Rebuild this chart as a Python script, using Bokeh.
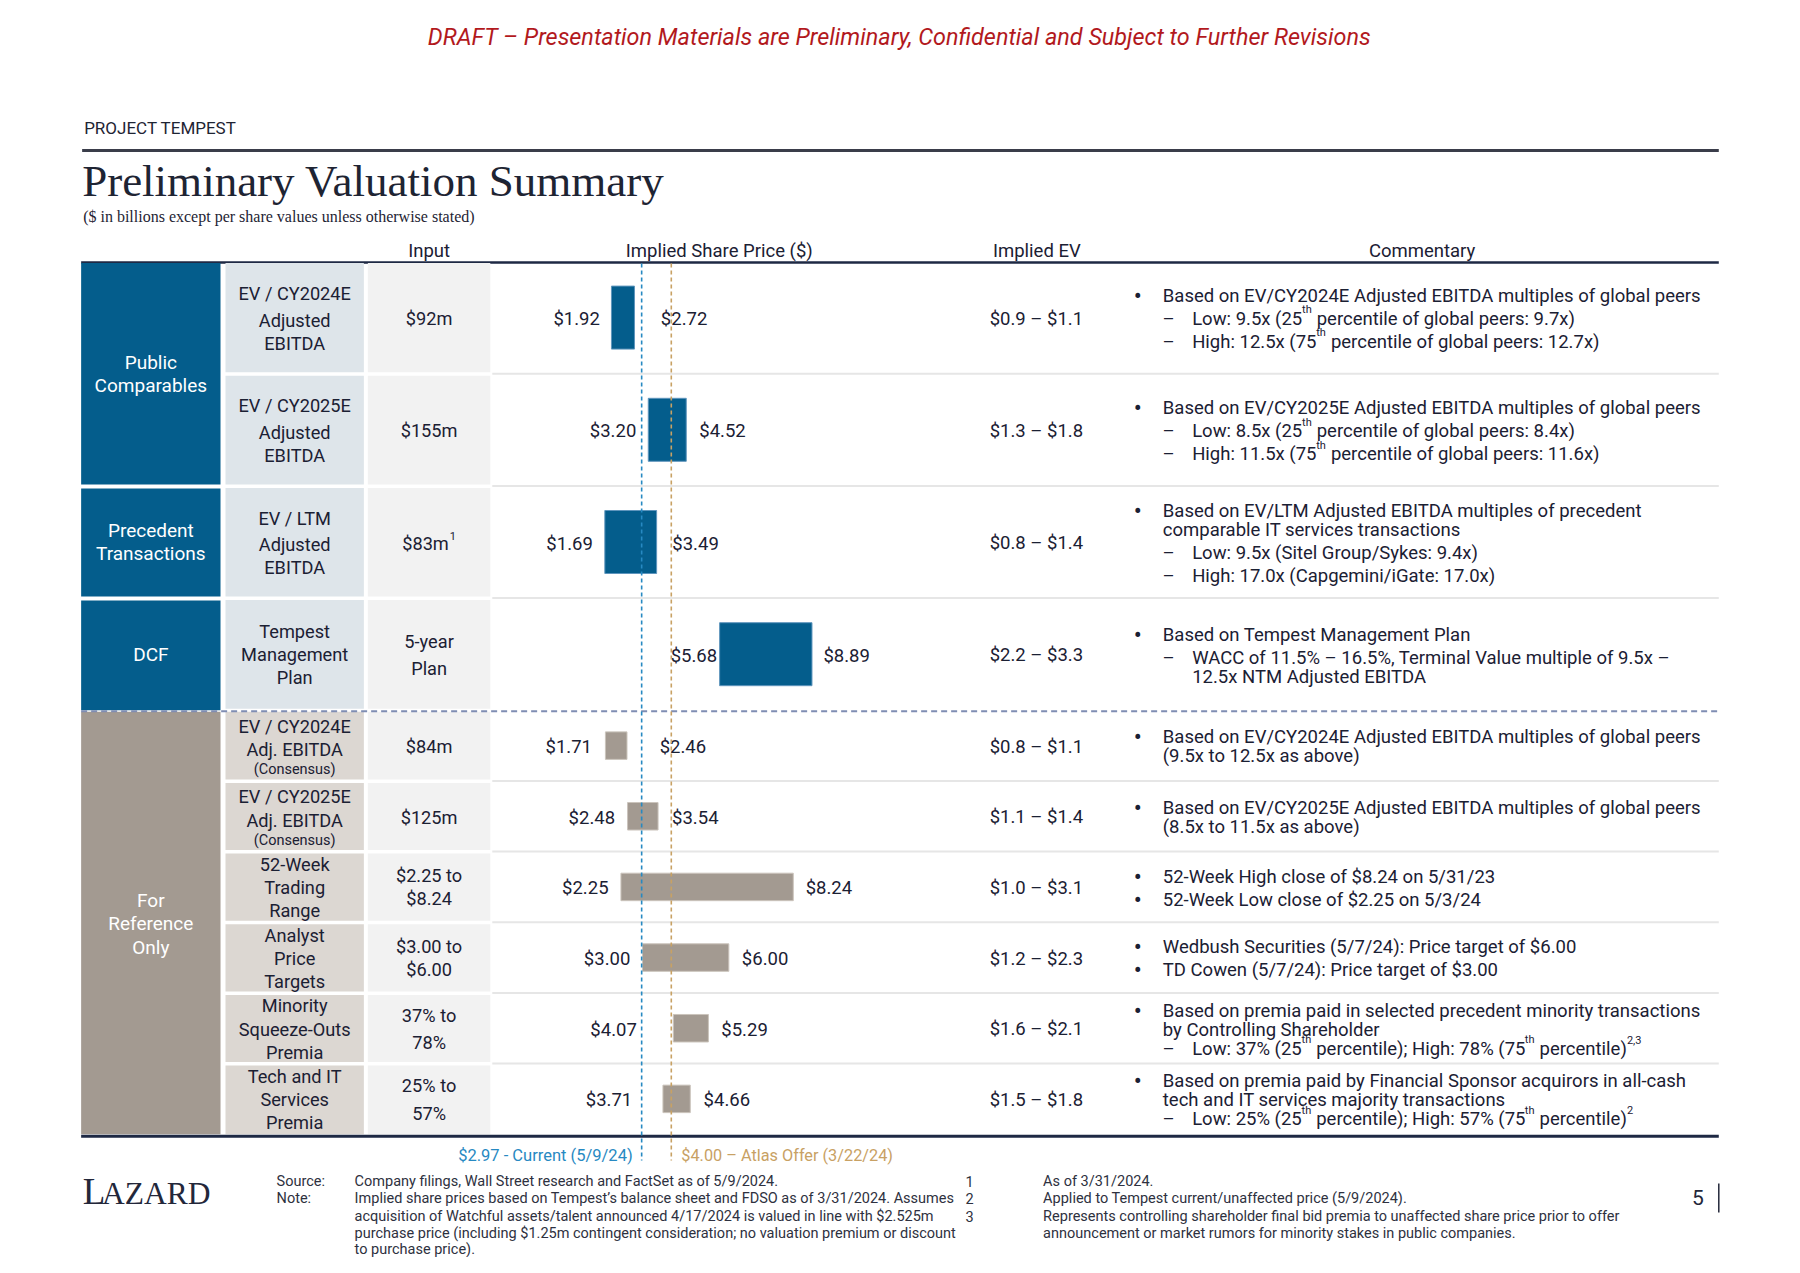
from bokeh.plotting import figure
from bokeh.models import Range1d, ColumnDataSource
from bokeh.embed import file_html
from bokeh.resources import INLINE
from bokeh.core.properties import value

# ---------------- data ----------------
GROUP_LABELS = [["Public", "Comparables"], ["Precedent", "Transactions"], ["DCF"],
                ["For", "Reference", "Only"]]
GROUP_ROWS = [(0, 2), (2, 3), (3, 4), (4, 10)]

METHODS = [
    ["EV / CY2024E", "Adjusted", "EBITDA"],
    ["EV / CY2025E", "Adjusted", "EBITDA"],
    ["EV / LTM", "Adjusted", "EBITDA"],
    ["Tempest", "Management", "Plan"],
    ["EV / CY2024E", "Adj. EBITDA", "(Consensus)"],
    ["EV / CY2025E", "Adj. EBITDA", "(Consensus)"],
    ["52-Week", "Trading", "Range"],
    ["Analyst", "Price", "Targets"],
    ["Minority", "Squeeze-Outs", "Premia"],
    ["Tech and IT", "Services", "Premia"],
]
INPUTS = [["$92m"], ["$155m"], ["$83m"], ["5-year", "Plan"], ["$84m"], ["$125m"],
          ["$2.25 to", "$8.24"], ["$3.00 to", "$6.00"], ["37% to", "78%"], ["25% to", "57%"]]
INPUT_SUP = ["", "", "1", "", "", "", "", "", "", ""]

PRICE_LOW = [1.92, 3.20, 1.69, 5.68, 1.71, 2.48, 2.25, 3.00, 4.07, 3.71]
PRICE_HIGH = [2.72, 4.52, 3.49, 8.89, 2.46, 3.54, 8.24, 6.00, 5.29, 4.66]
EV_LOW = [0.9, 1.3, 0.8, 2.2, 0.8, 1.1, 1.0, 1.2, 1.6, 1.5]
EV_HIGH = [1.1, 1.8, 1.4, 3.3, 1.1, 1.4, 3.1, 2.3, 2.1, 1.8]

CURRENT_PRICE = 2.97
ATLAS_OFFER = 4.00
CURRENT_LABEL = "$2.97 - Current (5/9/24)"
OFFER_LABEL = "$4.00 \u2013 Atlas Offer (3/22/24)"

HEADERS = ["Input", "Implied Share Price ($)", "Implied EV", "Commentary"]

COMMENTARY = [
    [("b", [("Based on EV/CY2024E Adjusted EBITDA multiples of global peers", 0)]),
     ("d", [("Low: 9.5x (25", 0), ("th", 1), (" percentile of global peers: 9.7x)", 0)]),
     ("d", [("High: 12.5x (75", 0), ("th", 1), (" percentile of global peers: 12.7x)", 0)])],
    [("b", [("Based on EV/CY2025E Adjusted EBITDA multiples of global peers", 0)]),
     ("d", [("Low: 8.5x (25", 0), ("th", 1), (" percentile of global peers: 8.4x)", 0)]),
     ("d", [("High: 11.5x (75", 0), ("th", 1), (" percentile of global peers: 11.6x)", 0)])],
    [("b", [("Based on EV/LTM Adjusted EBITDA multiples of precedent", 0)]),
     ("c", [("comparable IT services transactions", 0)]),
     ("d", [("Low: 9.5x (Sitel Group/Sykes: 9.4x)", 0)]),
     ("d", [("High: 17.0x (Capgemini/iGate: 17.0x)", 0)])],
    [("b", [("Based on Tempest Management Plan", 0)]),
     ("d", [("WACC of 11.5% \u2013 16.5%, Terminal Value multiple of 9.5x \u2013", 0)]),
     ("dc", [("12.5x NTM Adjusted EBITDA", 0)])],
    [("b", [("Based on EV/CY2024E Adjusted EBITDA multiples of global peers", 0)]),
     ("c", [("(9.5x to 12.5x as above)", 0)])],
    [("b", [("Based on EV/CY2025E Adjusted EBITDA multiples of global peers", 0)]),
     ("c", [("(8.5x to 11.5x as above)", 0)])],
    [("b", [("52-Week High close of $8.24 on 5/31/23", 0)]),
     ("b", [("52-Week Low close of $2.25 on 5/3/24", 0)])],
    [("b", [("Wedbush Securities (5/7/24): Price target of $6.00", 0)]),
     ("b", [("TD Cowen (5/7/24): Price target of $3.00", 0)])],
    [("b", [("Based on premia paid in selected precedent minority transactions", 0)]),
     ("c", [("by Controlling Shareholder", 0)]),
     ("d", [("Low: 37% (25", 0), ("th", 1), (" percentile); High: 78% (75", 0), ("th", 1),
            (" percentile)", 0), ("2,3", 1)])],
    [("b", [("Based on premia paid by Financial Sponsor acquirors in all-cash", 0)]),
     ("c", [("tech and IT services majority transactions", 0)]),
     ("d", [("Low: 25% (25", 0), ("th", 1), (" percentile); High: 57% (75", 0), ("th", 1),
            (" percentile)", 0), ("2", 1)])],
]

FOOT_LEFT = [
    "Company filings, Wall Street research and FactSet as of 5/9/2024.",
    "Implied share prices based on Tempest\u2019s balance sheet and FDSO as of 3/31/2024. Assumes",
    "acquisition of Watchful assets/talent announced 4/17/2024 is valued in line with $2.525m",
    "purchase price (including $1.25m contingent consideration; no valuation premium or discount",
    "to purchase price).",
]
FOOT_NUMS = ["1", "2", "3"]
FOOT_RIGHT = [
    "As of 3/31/2024.",
    "Applied to Tempest current/unaffected price (5/9/2024).",
    "Represents controlling shareholder final bid premia to unaffected share price prior to offer",
    "announcement or market rumors for minority stakes in public companies.",
]

# ---------------- style ----------------
SANS = "Roboto"
SERIF = "Liberation Serif"
TXT = "#1B2033"
RULE = "#1E2944"
BLUE = "#045D8C"
TAUPE = "#A39A91"
M_BG = ["#DEE5EA"] * 4 + ["#DCD7D2"] * 6
IN_BG = "#F2F2F2"
BAR_EDGE = ["#5F95BD"] * 4 + ["#CBC4BC"] * 6
SEP = "#E6E6E6"
DASH_SEP = "#7F8DB3"
CUR_C = "#2789C2"
OFF_C = "#C8A164"
RED = "#B2191D"

PX_PER_DOLLAR = 28.9
X_ZERO = 558.2

TABLE_TOP = 262.5
ROW_H = [112.2] * 4 + [70.65] * 6
CELL_GAP = 3.0
BAR_H = [63] * 4 + [27.5] * 6
GAP_L = [11.6, 12, 12, 2.5, 13.4, 12.5, 12.4, 12.2, 36.5, 30.7]
GAP_R = [26.4, 13, 15.7, 11.4, 32.7, 14, 12.4, 13, 12.9, 13.3]

C1 = (81, 221)
C2 = (226, 365)
C3 = (369, 492)
RIGHT_EDGE = 1726

W = {' ': .248, '!': .257, '$': .561, '%': .732, '(': .342, ')': .348, ',': .196, '-': .276,
     '.': .263, '/': .412, ':': .242, ';': .211, "'": .174, '\u2019': .196, '\u2013': .561}
for d in "0123456789":
    W[d] = .561
W.update(dict(zip("ABCDEFGHIJKLMNOPQRSTUVWXYZ",
                  [.652, .623, .651, .656, .568, .553, .681, .713, .272, .552, .627, .538, .873,
                   .713, .688, .631, .688, .615, .593, .597, .648, .636, .887, .627, .601, .599])))
W.update(dict(zip("abcdefghijklmnopqrstuvwxyz",
                  [.543, .561, .523, .563, .528, .347, .561, .551, .243, .239, .506, .243, .875,
                   .552, .569, .561, .565, .338, .516, .326, .551, .484, .750, .495, .473, .495])))


def tw(s, size):
    return sum(W.get(ch, 0.55) for ch in s) * size


FIG_W, FIG_H = 1784, 1257
X_SPAN = 1792  # page units shown across the figure width
p = figure(width=FIG_W, height=FIG_H, x_range=Range1d(0, X_SPAN), y_range=Range1d(FIG_H, 0),
           x_axis_type=None, y_axis_type=None, output_backend="svg", toolbar_location=None,
           min_border=0, outline_line_color=None, background_fill_color="white")
p.extra_x_ranges = {"price": Range1d((0 - X_ZERO) / PX_PER_DOLLAR, (X_SPAN - X_ZERO) / PX_PER_DOLLAR)}

# text accumulator
groups = {}


def T(x, y, s, size=18.5, color=TXT, align="left", base="middle", font=SANS, style="normal"):
    key = (size, color, align, base, font, style)
    g = groups.setdefault(key, {"x": [], "y": [], "t": []})
    g["x"].append(x)
    g["y"].append(y)
    g["t"].append(s)


# row geometry
tops = []
acc = TABLE_TOP
for h in ROW_H:
    tops.append(acc)
    acc += h
TABLE_BOTTOM = acc
centers = [t + (h - CELL_GAP) / 2 for t, h in zip(tops, ROW_H)]

# ---- header area ----
T(903, 36, "DRAFT \u2013 Presentation Materials are Preliminary, Confidential and Subject to Further Revisions",
  size=23.4, color=RED, align="center", style="italic")
T(84, 127, "PROJECT TEMPEST", size=17, color="#1E2433")
p.segment(x0=[82], x1=[RIGHT_EDGE], y0=[150], y1=[150], line_color="#3A3D4A", line_width=3)
T(82, 180, "Preliminary Valuation Summary", size=45, color="#1E2433", font=SERIF)
T(83, 216, "($ in billions except per share values unless otherwise stated)", size=16,
  color="#1E2433", font=SERIF)

hdr_x = [(C3[0] + C3[1]) / 2, 722, 1041, 1428]
for hx, ht in zip(hdr_x, HEADERS):
    T(hx, 250, ht, align="center")
p.segment(x0=[C1[0]], x1=[RIGHT_EDGE], y0=[262], y1=[262], line_color=RULE, line_width=2.5)

# ---- table cells ----
ql, qr, qt, qb, qc = [], [], [], [], []
for gi, (r0, r1) in enumerate(GROUP_ROWS):
    ql.append(C1[0]); qr.append(C1[1])
    qt.append(tops[r0] + (0 if r0 in (0, 4) else 1.0))
    qb.append(tops[r1 - 1] + ROW_H[r1 - 1] - CELL_GAP + (1.5 if r1 in (4, 10) else 0))
    qc.append(BLUE if gi < 3 else TAUPE)
for r in range(10):
    t0 = tops[r] + (0 if r in (0, 4) else 0.5)
    b0 = tops[r] + ROW_H[r] - CELL_GAP + (1.5 if r == 9 else 0)
    ql += [C2[0], C3[0]]; qr += [C2[1], C3[1]]
    qt += [t0, t0]; qb += [b0, b0]
    qc += [M_BG[r], IN_BG]
p.quad(left=ql, right=qr, top=qt, bottom=qb, fill_color=qc, line_color=None)

# row separators in the chart / commentary area
sy = [tops[r] + ROW_H[r] - 1.5 for r in range(9) if r != 3]
p.segment(x0=[494] * len(sy), x1=[RIGHT_EDGE] * len(sy), y0=sy, y1=sy, line_color=SEP, line_width=2)
p.segment(x0=[C1[0]], x1=[RIGHT_EDGE], y0=[tops[4] - 0.5], y1=[tops[4] - 0.5], line_color=DASH_SEP,
          line_width=2, line_dash="6 4")
p.segment(x0=[C1[0]], x1=[RIGHT_EDGE], y0=[TABLE_BOTTOM + 0.5], y1=[TABLE_BOTTOM + 0.5],
          line_color=RULE, line_width=3)

# category labels
GROUP_OFF = [[-11.2, 12], [-11.2, 11.8], [0], [-21.5, 1.5, 24.8]]
for gi, (r0, r1) in enumerate(GROUP_ROWS):
    gc = (tops[r0] + tops[r1 - 1] + ROW_H[r1 - 1] - CELL_GAP) / 2
    for ln, off in zip(GROUP_LABELS[gi], GROUP_OFF[gi]):
        T((C1[0] + C1[1]) / 2, gc + off, ln, size=19, color="white", align="center")

# methods
M_OFF = [[-24, 2.5, 25.5]] * 3 + [[-23, 0, 23]] + [[-19.5, 4, 24.3]] * 2 + [[-22.3, 0.8, 24]] * 4
for r in range(10):
    for i, (ln, off) in enumerate(zip(METHODS[r], M_OFF[r])):
        small = ln.startswith("(")
        T((C2[0] + C2[1]) / 2, centers[r] + off, ln, size=14.5 if small else 18.2, align="center")

# inputs
for r in range(10):
    lines = INPUTS[r]
    offs = [1] if len(lines) == 1 else ([-13, 14.5] if r in (3, 8, 9) else [-11.5, 12])
    cx = (C3[0] + C3[1]) / 2
    for ln, off in zip(lines, offs):
        if INPUT_SUP[r]:
            wm = tw(ln, 18.2)
            ws = tw(INPUT_SUP[r], 11)
            start = cx - (wm + 1 + ws) / 2
            T(start + wm / 2, centers[r] + off, ln, size=18.2, align="center")
            T(start + wm + 1, centers[r] + off - 7, INPUT_SUP[r], size=11)
        else:
            T(cx, centers[r] + off, ln, size=18.2, align="center")

# ---- football field bars (price scale) ----
bar_src = ColumnDataSource(dict(
    y=centers, left=PRICE_LOW, right=PRICE_HIGH, h=BAR_H,
    fill=[BLUE] * 4 + [TAUPE] * 6, edge=BAR_EDGE))
p.hbar(y="y", left="left", right="right", height="h", fill_color="fill", line_color="edge",
       line_width=1, source=bar_src, x_range_name="price")

lab_y = [c + 1.5 for c in centers]
left_src = ColumnDataSource(dict(x=PRICE_LOW, y=lab_y, t=["$%.2f" % v for v in PRICE_LOW],
                                 off=[-g for g in GAP_L]))
right_src = ColumnDataSource(dict(x=PRICE_HIGH, y=lab_y, t=["$%.2f" % v for v in PRICE_HIGH],
                                  off=GAP_R))
p.text(x="x", y="y", text="t", x_offset="off", source=left_src, x_range_name="price",
       text_font=value(SANS), text_font_size="18.5px", text_color=TXT, text_align="right",
       text_baseline="middle")
p.text(x="x", y="y", text="t", x_offset="off", source=right_src, x_range_name="price",
       text_font=value(SANS), text_font_size="18.5px", text_color=TXT, text_align="left",
       text_baseline="middle")

# reference lines: current price and Atlas offer
p.segment(x0=[CURRENT_PRICE], x1=[CURRENT_PRICE], y0=[263], y1=[1160], line_color=CUR_C,
          line_width=1.6, line_dash="4 3", x_range_name="price")
p.segment(x0=[ATLAS_OFFER], x1=[ATLAS_OFFER], y0=[263], y1=[1160], line_color=OFF_C,
          line_width=1.6, line_dash="4 3", x_range_name="price")
p.text(x=[CURRENT_PRICE], y=[1154.5], text=[CURRENT_LABEL], x_offset=-9, x_range_name="price",
       text_font=value(SANS), text_font_size="16.5px", text_color=CUR_C, text_align="right",
       text_baseline="middle")
p.text(x=[ATLAS_OFFER], y=[1154.5], text=[OFFER_LABEL], x_offset=10, x_range_name="price",
       text_font=value(SANS), text_font_size="16.3px", text_color=OFF_C, text_align="left",
       text_baseline="middle")

# implied EV
for r in range(10):
    T(1040.5, centers[r] + 1, "$%.1f \u2013 $%.1f" % (EV_LOW[r], EV_HIGH[r]), align="center")

# commentary
BULLET_X, BTEXT_X, DASH_X, DTEXT_X = 1142.4, 1167.5, 1173.3, 1197
TIGHT_ROWS = (8, 9)
for r in range(10):
    lines = COMMENTARY[r]
    gaps = [0]
    for kind, _ in lines[1:]:
        gaps.append(19 if (kind in ("c", "dc") or r in TIGHT_ROWS) else 23)
    span = sum(gaps)
    y = centers[r] - span / 2 + 1.3
    for (kind, segs), g in zip(lines, gaps):
        y += g
        if kind == "b":
            T(BULLET_X, y, "\u2022", size=24, align="center")
        if kind == "d":
            T(DASH_X, y, "\u2013", align="center")
        x = BTEXT_X if kind in ("b", "c") else DTEXT_X
        for s, sup in segs:
            if s.startswith(" "):
                x += tw(" ", 18.5)
                s = s.lstrip()
            if sup:
                T(x + 0.5, y - 9, s, size=11)
                x += tw(s, 11) + 1
            else:
                T(x, y, s, size=18.5)
                x += tw(s, 18.5)

# ---- footer ----
T(82.5, 1191, "L", size=37, color="#23273A", font=SERIF)
T(82.5 + tw("L", 37) * 0.85 + 2.5, 1193, "AZARD", size=31.5, color="#23273A", font=SERIF)
FOOT_Y = [1181, 1198.3, 1215.6, 1232.9, 1249.3]
FC = "#2E3140"
FS = 14.5
T(277.3, FOOT_Y[0], "Source:", size=FS, color=FC)
T(277.3, FOOT_Y[1], "Note:", size=FS, color=FC)
for ln, fy in zip(FOOT_LEFT, FOOT_Y):
    T(355.7, fy, ln, size=FS, color=FC)
for n, fy in zip(FOOT_NUMS, FOOT_Y):
    T(973.3, fy, n, size=FS, color=FC, align="center")
for ln, fy in zip(FOOT_RIGHT, FOOT_Y):
    T(1047.3, fy, ln, size=FS, color=FC)
T(1705, 1197, "5", size=21, color="#23273A", align="center")
p.segment(x0=[1726], x1=[1726], y0=[1183], y1=[1212], line_color="#23273A", line_width=1.5)

for (size, color, align, base, font, style), g in groups.items():
    p.text(x=g["x"], y=g["y"], text=g["t"], text_font=value(font), text_font_size="%gpx" % size,
           text_color=color, text_align=align, text_baseline=base, text_font_style=style)

open("out.html", "w").write(file_html(p, INLINE))
